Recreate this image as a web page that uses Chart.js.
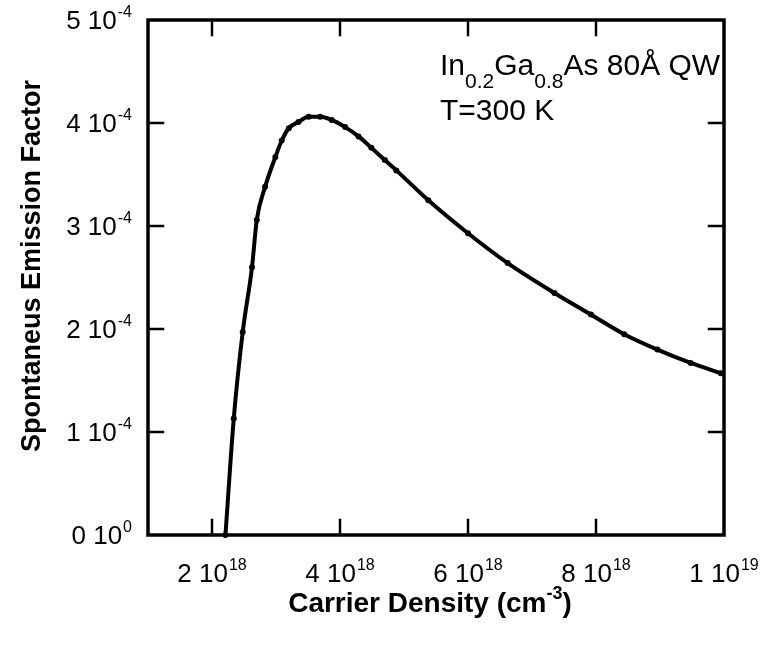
<!DOCTYPE html>
<html>
<head>
<meta charset="utf-8">
<script src="https://cdn.jsdelivr.net/npm/chart.js@4"></script>
<style>
  html, body { margin: 0; padding: 0; background: #fff; }
  #chart { display: block; }
</style>
</head>
<body>
<canvas id="chart" width="764" height="646"></canvas>
<script>
// carrier density (cm^-3) and spontaneous emission factor
const density = [2.21e18, 2.34e18, 2.48e18, 2.625e18, 2.70e18, 2.83e18, 2.99e18, 3.09e18, 3.20e18, 3.35e18,
  3.51e18, 3.69e18, 3.87e18, 4.08e18, 4.29e18, 4.49e18, 4.70e18, 4.88e18, 5.38e18, 6.0e18,
  6.62e18, 7.35e18, 7.92e18, 8.44e18, 8.96e18, 9.48e18, 9.95e18];
const factor = [0, 1.13e-4, 1.97e-4, 2.60e-4, 3.06e-4, 3.38e-4, 3.67e-4, 3.83e-4, 3.95e-4, 4.01e-4,
  4.06e-4, 4.06e-4, 4.03e-4, 3.96e-4, 3.87e-4, 3.76e-4, 3.64e-4, 3.54e-4, 3.25e-4, 2.93e-4,
  2.64e-4, 2.35e-4, 2.14e-4, 1.95e-4, 1.80e-4, 1.67e-4, 1.57e-4];

// tick values and their labels (mantissa + power of ten)
const xTicks = [2e18, 4e18, 6e18, 8e18, 1e19];
const xTickMant = ['2', '4', '6', '8', '1'];
const xTickExp = ['18', '18', '18', '18', '19'];
const yTicks = [0, 1e-4, 2e-4, 3e-4, 4e-4, 5e-4];
const yTickMant = ['0', '1', '2', '3', '4', '5'];
const yTickExp = ['0', '-4', '-4', '-4', '-4', '-4'];

const FONT = '"Liberation Sans", Arial, Helvetica, sans-serif';

// text with raised exponent: "m 10^e"
function powWidth(ctx, mant, exp, size) {
  ctx.font = size + 'px ' + FONT;
  const w1 = ctx.measureText(mant + ' 10').width;
  ctx.font = Math.round(size * 0.62) + 'px ' + FONT;
  const w2 = ctx.measureText(exp).width;
  return w1 + w2 + 1;
}
function drawPow(ctx, mant, exp, x, base, size) {
  ctx.textAlign = 'left';
  ctx.textBaseline = 'alphabetic';
  ctx.font = size + 'px ' + FONT;
  ctx.fillText(mant + ' 10', x, base);
  const w1 = ctx.measureText(mant + ' 10').width;
  ctx.font = Math.round(size * 0.62) + 'px ' + FONT;
  ctx.fillText(exp, x + w1 + 1, base - size * 0.46);
}

// frame with inward ticks on all four sides, tick labels, titles, annotation
const axisDecor = {
  id: 'axisDecor',
  afterDraw(chart) {
    const { ctx, chartArea: a, scales: { x, y } } = chart;
    const tl = 15;
    ctx.save();
    ctx.strokeStyle = '#000';
    ctx.fillStyle = '#000';
    ctx.lineWidth = 3.5;
    ctx.lineCap = 'square';
    ctx.strokeRect(a.left, a.top, a.right - a.left, a.bottom - a.top);
    ctx.lineWidth = 2.5;
    ctx.beginPath();
    xTicks.forEach(v => {
      const px = x.getPixelForValue(v);
      if (px >= a.right - 2) return;
      ctx.moveTo(px, a.bottom); ctx.lineTo(px, a.bottom - tl);
      ctx.moveTo(px, a.top); ctx.lineTo(px, a.top + tl);
    });
    yTicks.forEach(v => {
      const py = y.getPixelForValue(v);
      if (py <= a.top + 2 || py >= a.bottom - 2) return;
      ctx.moveTo(a.left, py); ctx.lineTo(a.left + tl, py);
      ctx.moveTo(a.right, py); ctx.lineTo(a.right - tl, py);
    });
    ctx.stroke();

    const ts = 26;
    xTicks.forEach((v, i) => {
      const px = x.getPixelForValue(v);
      const w = powWidth(ctx, xTickMant[i], xTickExp[i], ts);
      drawPow(ctx, xTickMant[i], xTickExp[i], px - w / 2, a.bottom + 47, ts);
    });
    yTicks.forEach((v, i) => {
      const py = y.getPixelForValue(v);
      const w = powWidth(ctx, yTickMant[i], yTickExp[i], ts);
      drawPow(ctx, yTickMant[i], yTickExp[i], 132 - w, py + 9.3, ts);
    });

    // x title with superscript
    ctx.font = 'bold 28px ' + FONT;
    const t1 = 'Carrier Density (cm';
    const w1 = ctx.measureText(t1).width;
    ctx.font = 'bold 18px ' + FONT;
    const w2 = ctx.measureText('-3').width;
    ctx.font = 'bold 28px ' + FONT;
    const w3 = ctx.measureText(')').width;
    const sx = 430 - (w1 + w2 + w3) / 2;
    ctx.textAlign = 'left';
    ctx.fillText(t1, sx, 612);
    ctx.font = 'bold 18px ' + FONT;
    ctx.fillText('-3', sx + w1, 599);
    ctx.font = 'bold 28px ' + FONT;
    ctx.fillText(')', sx + w1 + w2, 612);

    // y title
    ctx.save();
    ctx.translate(40, 266);
    ctx.rotate(-Math.PI / 2);
    ctx.textAlign = 'center';
    ctx.font = 'bold 27px ' + FONT;
    ctx.fillText('Spontaneus Emission Factor', 0, 0);
    ctx.restore();

    // annotation
    const parts = [['In', 0], ['0.2', 1], ['Ga', 0], ['0.8', 1], ['As 80Å QW', 0]];
    let ax = 440;
    ctx.textAlign = 'left';
    parts.forEach(([s, sub]) => {
      ctx.font = (sub ? 21 : 30) + 'px ' + FONT;
      ctx.fillText(s, ax, sub ? 88 : 75);
      ax += ctx.measureText(s).width;
    });
    ctx.font = '30px ' + FONT;
    ctx.fillText('T=300 K', 440, 120);
    ctx.restore();
  }
};

new Chart(document.getElementById('chart'), {
  type: 'line',
  data: {
    datasets: [{
      label: 'Spontaneous emission factor',
      data: density.map((d, i) => ({ x: d, y: factor[i] })),
      borderColor: '#000',
      backgroundColor: '#000',
      borderWidth: 4,
      pointRadius: 3,
      pointBorderWidth: 0,
      cubicInterpolationMode: 'monotone',
      clip: false
    }]
  },
  options: {
    responsive: false,
    animation: false,
    layout: { padding: { top: 20, right: 40, left: 0, bottom: 0 } },
    plugins: { legend: { display: false }, tooltip: { enabled: false } },
    scales: {
      x: {
        type: 'linear', min: 1e18, max: 1e19,
        afterBuildTicks: s => { s.ticks = xTicks.map(v => ({ value: v })); },
        afterFit: s => { s.height = 111; },
        grid: { display: false }, border: { display: false },
        ticks: { display: false }
      },
      y: {
        type: 'linear', min: 0, max: 5e-4,
        afterBuildTicks: s => { s.ticks = yTicks.map(v => ({ value: v })); },
        afterFit: s => { s.width = 148; },
        grid: { display: false }, border: { display: false },
        ticks: { display: false }
      }
    }
  },
  plugins: [axisDecor]
});
</script>
</body>
</html>
